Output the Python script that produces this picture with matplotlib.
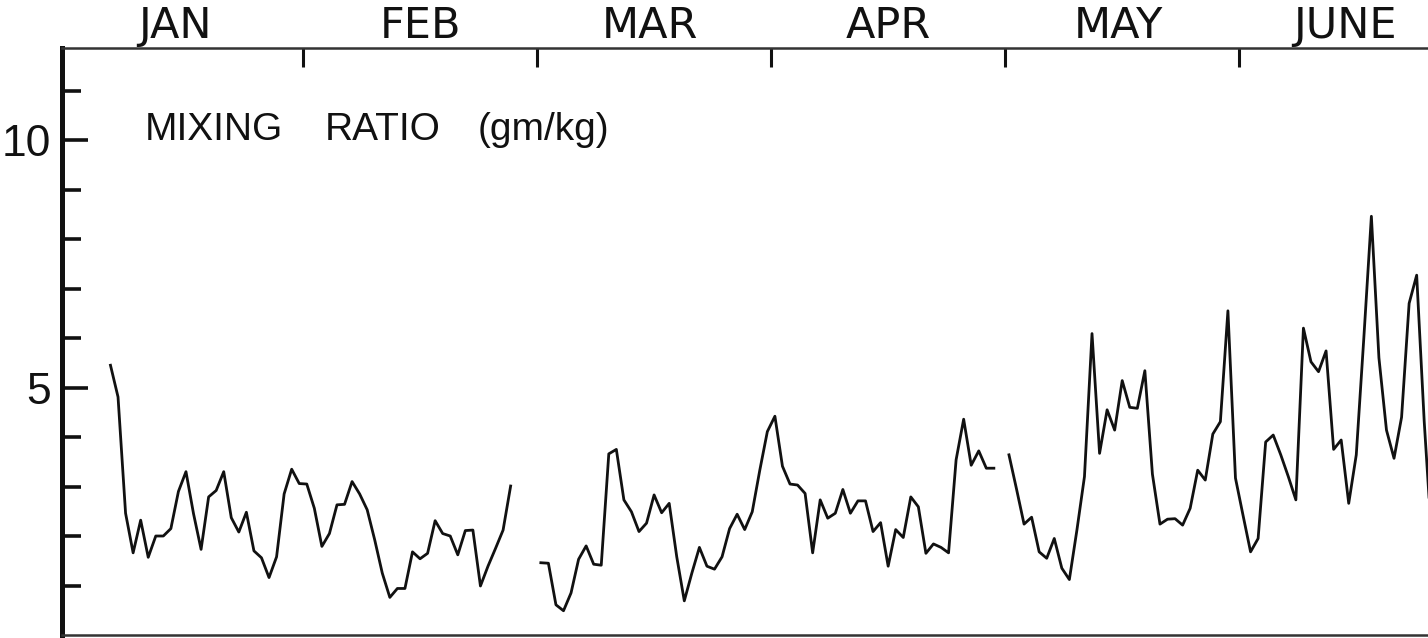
import matplotlib
matplotlib.use("Agg")
import matplotlib.pyplot as plt
import numpy as np

# x positions are "day slots": every month gets 31 slots, slot = 31*month_index + day
jan_feb_start = 6      # Jan 6
jan_feb = [5.45, 4.81, 2.46, 1.66, 2.32, 1.57, 2.00, 2.00, 2.15, 2.90,
           3.30, 2.45, 1.73, 2.79, 2.92, 3.30, 2.37, 2.08, 2.48, 1.70,
           1.56, 1.16, 1.58, 2.85, 3.35, 3.06, 3.05, 2.56, 1.79, 2.05,
           2.63, 2.64, 3.10, 2.85, 2.53, 1.92, 1.25, 0.76, 0.94, 0.94,
           1.68, 1.54, 1.65, 2.31, 2.05, 2.00, 1.62, 2.11, 2.12, 0.99,
           1.39, 1.75, 2.12, 3.01]

mar_apr_start = 63     # Mar 1
mar_apr = [1.46, 1.45, 0.61, 0.49, 0.85, 1.53, 1.80, 1.43, 1.41, 3.66,
           3.75, 2.73, 2.49, 2.09, 2.26, 2.83, 2.47, 2.66, 1.58, 0.69,
           1.25, 1.77, 1.39, 1.33, 1.58, 2.15, 2.44, 2.13, 2.49, 3.33,
           4.11, 4.42, 3.41, 3.05, 3.03, 2.86, 1.66, 2.73, 2.36, 2.46,
           2.94, 2.46, 2.71, 2.71, 2.09, 2.27, 1.39, 2.13, 1.97, 2.79,
           2.59, 1.65, 1.84, 1.77, 1.66, 3.54, 4.36, 3.43, 3.72, 3.37,
           3.37]

may_jun_start = 125    # May 1
may_jun = [3.64, 2.95, 2.24, 2.38, 1.68, 1.55, 1.95, 1.35, 1.12, 2.12,
           3.20, 6.09, 3.67, 4.55, 4.14, 5.14, 4.60, 4.58, 5.34, 3.25,
           2.24, 2.34, 2.35, 2.22, 2.56, 3.33, 3.13, 4.06, 4.31, 6.55,
           3.17, 2.42, 1.68, 1.95, 3.90, 4.04, 3.64, 3.20, 2.73, 6.20,
           5.52, 5.32, 5.74, 3.75, 3.94, 2.66, 3.64, 6.00, 8.46, 5.60,
           4.14, 3.57, 4.40, 6.70, 7.27, 4.31, 1.90]

months = ["JAN", "FEB", "MAR", "APR", "MAY", "JUNE"]
month_bounds = [31.5, 62.5, 93.5, 124.5, 155.5]
month_label_pos = [14.5, 47, 77.5, 109, 139.5, 169.5]
y_major = [5, 10]
y_major_labels = ["5", "10"]
y_minor = [1, 2, 3, 4, 6, 7, 8, 9, 11]
title_words = ["MIXING", "RATIO", "(gm/kg)"]

NARROW = ["Liberation Sans", "DejaVu Sans"]
INK = "#111111"

W, H = 1428, 638
fig = plt.figure(figsize=(W / 100, H / 100), dpi=100)
fig.patch.set_facecolor("white")
ax = fig.add_axes([62 / W, 3 / H, 1366 / W, 587 / H])
ax.set_facecolor("white")

for start, vals in [(jan_feb_start, jan_feb), (mar_apr_start, mar_apr),
                    (may_jun_start, may_jun)]:
    x = np.arange(start, start + len(vals))
    ax.plot(x, vals, color=INK, lw=2.0, solid_joinstyle="round")

ax.set_xlim(-0.42, 180.5)
ax.set_ylim(0, 11.86)

# spines
ax.spines["right"].set_visible(False)
ax.spines["left"].set_linewidth(3.6)
ax.spines["left"].set_color(INK)
ax.spines["top"].set_linewidth(1.8)
ax.spines["top"].set_color("#333333")
ax.spines["bottom"].set_linewidth(1.8)
ax.spines["bottom"].set_color("#333333")

# x axis: month ticks on top
ax.xaxis.set_ticks_position("top")
ax.set_xticks(month_bounds)
ax.set_xticklabels([])
ax.set_xticks(month_label_pos, minor=True)
ax.set_xticklabels(months, minor=True)
ax.tick_params(axis="x", which="major", direction="in", length=14, width=2.2,
               color=INK, top=True, bottom=False)
ax.tick_params(axis="x", which="minor", length=0, top=True, bottom=False,
               labeltop=True, labelbottom=False, pad=1, labelsize=31,
               labelcolor=INK)

# y axis
ax.set_yticks(y_major)
ax.set_yticklabels(y_major_labels)
ax.set_yticks(y_minor, minor=True)
ax.tick_params(axis="y", which="major", direction="in", length=19, width=2.6,
               color=INK, pad=8, labelsize=32, labelcolor=INK)
ax.tick_params(axis="y", which="minor", direction="in", length=14, width=2.6,
               color=INK)
for lab in ax.get_yticklabels():
    lab.set_family(NARROW)

# title inside the plot (three words, spaced like the lettering)
title_x = [0.0608, 0.1925, 0.3045]
for word, tx in zip(title_words, title_x):
    ax.text(tx, 0.860, word, transform=ax.transAxes, fontsize=28,
            color=INK, ha="left", va="center", family=NARROW)

fig.savefig("out.png", dpi=100, facecolor="white")
